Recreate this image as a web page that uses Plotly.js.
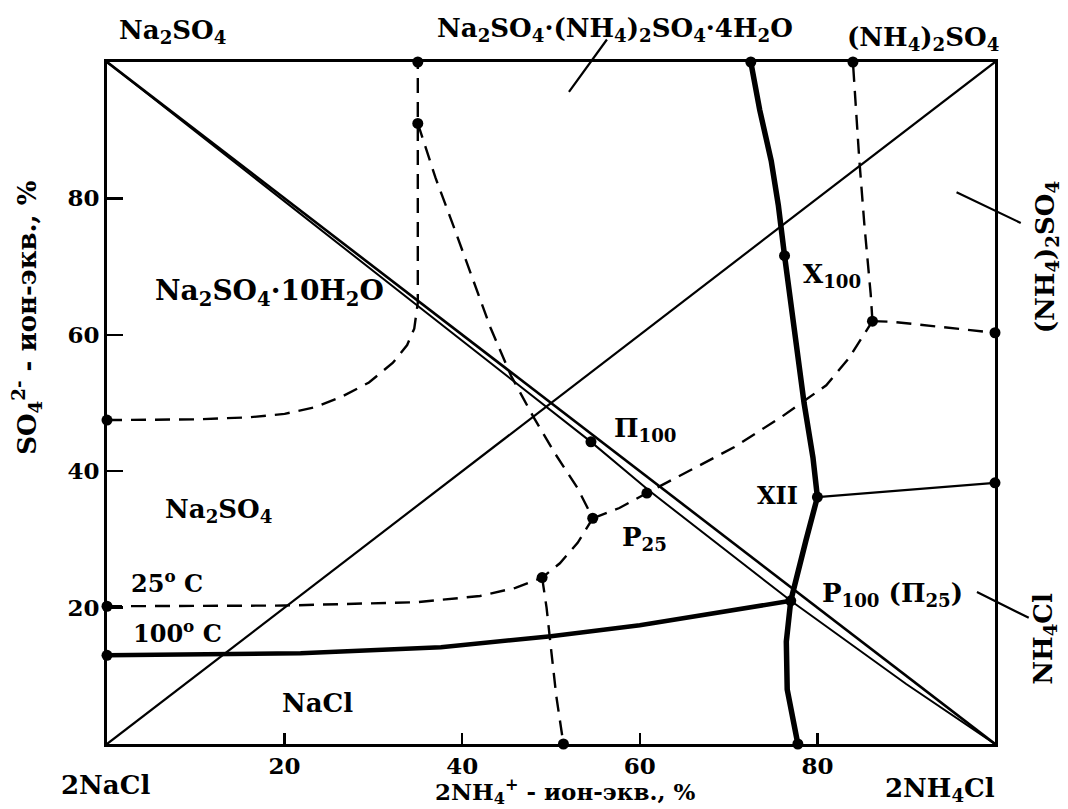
<!DOCTYPE html>
<html>
<head>
<meta charset="utf-8">
<script src="https://cdn.plot.ly/plotly-3.0.1.min.js"></script>
<style>html,body{margin:0;padding:0;background:#fff}#chart{width:1068px;height:809px}</style>
</head>
<body>
<div id="chart"></div>
<script>
// ---------- DATA (ion-equivalent %, x = 2NH4+, y = SO4 2-) ----------
const xTicks = [20, 40, 60, 80];
const yTicks = [20, 40, 60, 80];

// square diagonals
const diagUpX = [0, 100];           const diagUpY = [0, 100];
const diagAX = [0, 100];            const diagAY = [100, 0];
const diagBX = [0, 30, 54.5, 61, 77, 90, 100];
const diagBY = [100, 69.3, 44.3, 37.2, 21.0, 8.8, 0];

// 25 °C isotherm (dashed)
const d10hX = [0, 10, 16, 20, 23.5, 26.4, 29.5, 32.2, 33.8, 34.6, 35, 35, 35];
const d10hY = [47.5, 47.6, 47.9, 48.4, 49.4, 50.9, 53, 55.9, 58.5, 60.9, 64.7, 91, 100];
const dSlopeX = [35, 37, 39, 41, 43.2, 45.5, 48, 50.5, 53, 54.7];
const dSlopeY = [91, 83, 76, 69, 61, 54, 48, 42.5, 37.5, 33.1];
const d25X = [0, 20, 35, 42, 46, 49, 51, 53, 54.7];
const d25Y = [20.2, 20.3, 20.8, 21.7, 22.9, 24.4, 26.5, 29.5, 33.1];
const dP25X = [54.7, 57.7, 60.8, 64, 70.6, 76, 81, 83.5, 86.2];
const dP25Y = [33.1, 34.6, 36.8, 39, 43.5, 48, 52.6, 56.5, 62];
const dUpX = [86.2, 86, 85.3, 84.7, 84.2, 84];
const dUpY = [62, 66, 76, 86, 96, 100];
const dRightX = [86.2, 88.5, 100];
const dRightY = [62, 61.9, 60.3];
const dDownX = [49, 49.5, 50, 50.6, 51.4];
const dDownY = [24.4, 20, 14, 7, 0];

// 100 °C isotherm (bold)
const t100VX = [72.5, 73.5, 74.8, 75.6, 76.3, 77.5, 78.5, 79.5, 80, 78.7, 77, 76.5, 76.6, 77.8];
const t100VY = [100, 93, 85.5, 79, 71.6, 60, 50, 42, 36.2, 29.8, 21.0, 15, 8, 0];
const t100HX = [0, 21.8, 37.6, 50, 60, 66.8, 77];
const t100HY = [13, 13.3, 14.2, 15.8, 17.4, 18.9, 21.0];
const xiiX = [80, 100];
const xiiY = [36.2, 38.3];

// invariant / boundary points
const dotX = [35, 35, 72.5, 84, 0, 0, 0, 76.3, 86.2, 100, 80, 100, 54.5, 60.8, 54.7, 49, 77, 51.4, 77.8];
const dotY = [100, 91, 100, 100, 47.5, 20.2, 13, 71.6, 62, 60.3, 36.2, 38.3, 44.3, 36.8, 33.1, 24.4, 21.0, 0, 0];

// leader lines [x0, y0, x1, y1]
const leaderTop = [51.9, 95.4, 56.3, 103.3];
const leaderAS = [95.5, 81.0, 102.9, 76.4];
const leaderAC = [97.8, 22.4, 103.8, 18.5];

// labels inside the field
const fieldText = ['Na<sub>2</sub>SO<sub>4</sub>·10H<sub>2</sub>O', 'Na<sub>2</sub>SO<sub>4</sub>', '25<sup>o</sup> C', '100<sup>o</sup> C', 'NaCl',
  'П<sub>100</sub>', 'P<sub>25</sub>', 'X<sub>100</sub>', 'XII', 'P<sub>100</sub> (П<sub>25</sub>)'];
const fieldX = [18.3, 12.6, 6.7, 7.9, 23.7, 60.6, 60.5, 81.6, 75.5, 88.5];
const fieldY = [66.2, 34.3, 23.7, 16.4, 6.0, 46.1, 30.2, 68.7, 36.4, 21.9];
const fieldSize = [28, 26, 24, 24, 26, 26, 26, 26, 24, 26];

// ---------- DRAW ----------
const FONT = 'DejaVu Serif, Liberation Serif, serif';
const dash = '15px,9px';
function ln(x, y, w, d) {
  return {x: x, y: y, type: 'scatter', mode: 'lines', hoverinfo: 'skip', showlegend: false,
    line: {color: '#000', width: w, dash: d || 'solid'}};
}
const traces = [
  ln(diagUpX, diagUpY, 2.2),
  ln(diagAX, diagAY, 2.6),
  ln(diagBX, diagBY, 2),
  ln(d10hX, d10hY, 2.4, dash),
  ln(dSlopeX, dSlopeY, 2.4, dash),
  ln(d25X, d25Y, 2.4, dash),
  ln(dP25X, dP25Y, 2.4, dash),
  ln(dUpX, dUpY, 2.4, dash),
  ln(dRightX, dRightY, 2.4, dash),
  ln(dDownX, dDownY, 2.4, dash),
  ln(t100VX, t100VY, 5.5),
  ln(t100HX, t100HY, 4.5),
  ln(xiiX, xiiY, 2.2),
  {x: dotX, y: dotY, type: 'scatter', mode: 'markers', cliponaxis: false, hoverinfo: 'skip', showlegend: false,
    marker: {color: '#000', size: 11}}
];

function lbl(text, x, y, xref, yref, size, extra) {
  return Object.assign({text: '<b>' + text + '</b>', x: x, y: y, xref: xref, yref: yref, showarrow: false,
    xanchor: 'center', yanchor: 'middle',
    font: {family: FONT, size: size, color: '#000'}}, extra || {});
}
const annotations = [];
for (let i = 0; i < fieldText.length; i++) {
  annotations.push(lbl(fieldText[i], fieldX[i], fieldY[i], 'x', 'y', fieldSize[i]));
}
[leaderTop, leaderAS, leaderAC].forEach(function (L) {
  annotations.push({x: L[2], y: L[3], ax: L[0], ay: L[1], axref: 'x', ayref: 'y', xref: 'x', yref: 'y',
    text: '', showarrow: true, arrowhead: 0, arrowwidth: 2.2, arrowcolor: '#000', standoff: 0, startstandoff: 0});
});
annotations.push(lbl('Na<sub>2</sub>SO<sub>4</sub>', 0.0732, 1.044, 'paper', 'paper', 26));
annotations.push(lbl('Na<sub>2</sub>SO<sub>4</sub>·(NH<sub>4</sub>)<sub>2</sub>SO<sub>4</sub>·4H<sub>2</sub>O', 0.572, 1.047, 'paper', 'paper', 26));
annotations.push(lbl('(NH<sub>4</sub>)<sub>2</sub>SO<sub>4</sub>', 0.919, 1.034, 'paper', 'paper', 26));
annotations.push(lbl('(NH<sub>4</sub>)<sub>2</sub>SO<sub>4</sub>', 1.058, 0.713, 'paper', 'paper', 26, {textangle: -90}));
annotations.push(lbl('NH<sub>4</sub>Cl', 1.056, 0.154, 'paper', 'paper', 26, {textangle: -90}));
annotations.push(lbl('2NaCl', -0.002, -0.060, 'paper', 'paper', 26));
annotations.push(lbl('2NH<sub>4</sub>Cl', 0.938, -0.066, 'paper', 'paper', 26));
annotations.push(lbl('2NH<sub>4</sub><sup>+</sup> - ион-экв., %', 0.516, -0.070, 'paper', 'paper', 23));
annotations.push(lbl('SO<sub>4</sub><sup>2-</sup> - ион-экв., %', -0.090, 0.625, 'paper', 'paper', 26, {textangle: -90}));

const axisCommon = {
  range: [0, 100], showgrid: false, zeroline: false, showline: true, mirror: true,
  linecolor: '#000', linewidth: 2.8, ticks: 'inside', tickwidth: 2.5, tickcolor: '#000',
  tickmode: 'array', tickfont: {family: FONT, size: 23, color: '#000', weight: 'bold'}
};
const layout = {
  width: 1068, height: 809,
  margin: {l: 107, r: 73, t: 62, b: 65},
  paper_bgcolor: '#fff', plot_bgcolor: '#fff',
  showlegend: false,
  xaxis: Object.assign({}, axisCommon, {tickvals: xTicks, ticktext: xTicks.map(String), ticklen: 11}),
  yaxis: Object.assign({}, axisCommon, {tickvals: yTicks, ticktext: yTicks.map(String), ticklen: 16}),
  annotations: annotations
};
Plotly.newPlot('chart', traces, layout, {displayModeBar: false, staticPlot: true});
</script>
</body>
</html>
